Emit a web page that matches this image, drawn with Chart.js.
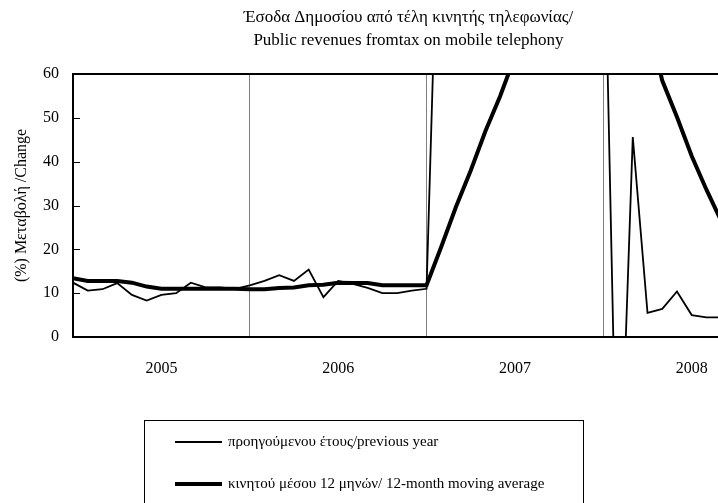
<!DOCTYPE html>
<html>
<head>
<meta charset="utf-8">
<script src="https://cdn.jsdelivr.net/npm/chart.js@4.4.1/dist/chart.umd.min.js"></script>
<style>
  html, body { margin: 0; padding: 0; background: #fff; overflow: hidden; width: 718px; height: 503px; }
  #wrap { position: relative; width: 744px; height: 503px; }
  #legend {
    position: absolute; left: 144px; top: 420px; width: 440px; height: 110px;
    border: 1px solid #000; box-sizing: border-box;
    font-family: "Liberation Serif", serif; font-size: 15px; color: #000;
  }
  .item { position: absolute; left: 30px; display: flex; align-items: center; white-space: nowrap; }
  .sample { display: inline-block; width: 47px; background: #000; margin-right: 6px; }
</style>
</head>
<body>
<div id="wrap">
  <canvas id="c" width="744" height="503"></canvas>
  <div id="legend"></div>
</div>
<script>
// ---- data (monthly, Jan 2005 onward) ----
const yearLabels = ['2005', '2006', '2007', '2008'];
const seriesNames = ['προηγούμενου έτους/previous year', 'κινητού μέσου 12 μηνών/ 12-month moving average'];
const prevYear = [
  12.4, 10.6, 10.9, 12.3, 9.6, 8.3, 9.6, 10.0, 12.4, 11.3, 11.3, 11.0,
  11.8, 12.8, 14.1, 12.8, 15.4, 9.1, 12.8, 12.1, 11.2, 10.0, 10.0, 10.6,
  11.0, 125, 118, 112, 120, 108, 122, 115, 110, 118, 112, 105,
  107, -51, 45.6, 5.5, 6.4, 10.4, 5.0, 4.5, 4.5
];
const movingAvg = [
  13.4, 12.8, 12.8, 12.8, 12.4, 11.5, 11.0, 11.0, 11.0, 11.0, 11.0, 11.0,
  10.9, 10.9, 11.2, 11.3, 11.8, 11.9, 12.4, 12.3, 12.3, 11.8, 11.8, 11.8,
  11.8, 20.6, 29.7, 38.0, 47.0, 55.0, 64.0, 72, 80, 88, 96, 104,
  111, 100, 87, 73, 58.5, 50.2, 41.3, 33.6, 26.5
];
const yTicks = [0, 10, 20, 30, 40, 50, 60];

const toPts = arr => arr.map((v, i) => ({ x: i, y: v }));
const FONT = '"Liberation Serif", "Times New Roman", serif';

const frameAndTicks = {
  id: 'frameAndTicks',
  afterDatasetsDraw(chart) {
    const { ctx, chartArea: a, scales } = chart;
    ctx.save();
    ctx.strokeStyle = '#000';
    ctx.lineWidth = 1;
    scales.y.ticks.forEach(t => {
      const y = Math.round(scales.y.getPixelForValue(t.value)) + 0.5;
      ctx.beginPath(); ctx.moveTo(a.left, y); ctx.lineTo(a.left + 7, y); ctx.stroke();
    });
    ctx.lineWidth = 2;
    ctx.strokeRect(a.left, a.top, a.right - a.left, a.bottom - a.top);
    ctx.restore();
  }
};

const chart = new Chart(document.getElementById('c'), {
  type: 'line',
  data: {
    datasets: [
      { label: seriesNames[0], data: toPts(prevYear), borderColor: '#000', borderWidth: 1.8, pointRadius: 0, tension: 0, clip: 0 },
      { label: seriesNames[1], data: toPts(movingAvg), borderColor: '#000', borderWidth: 4, pointRadius: 0, tension: 0, clip: 0 }
    ]
  },
  options: {
    responsive: false,
    animation: false,
    layout: { padding: 0 },
    plugins: {
      legend: { display: false },
      tooltip: { enabled: false },
      title: {
        display: true,
        fullSize: false,
        text: ['Έσοδα Δημοσίου από τέλη κινητής τηλεφωνίας/', 'Public revenues fromtax on mobile telephony'],
        color: '#000',
        font: { family: FONT, size: 17, weight: 'normal', lineHeight: 1.353 },
        padding: { top: 6, bottom: 22 }
      }
    },
    scales: {
      x: {
        type: 'linear', min: 0, max: 45.55,
        afterFit: s => { s.height = 166; },
        border: { display: false },
        grid: {
          drawTicks: false,
          color: c => (c.tick && c.tick.value > 0 && c.tick.value % 12 === 0) ? '#808080' : 'rgba(0,0,0,0)',
          lineWidth: 1
        },
        ticks: {
          stepSize: 6, includeBounds: false, autoSkip: false, maxRotation: 0,
          padding: 22, color: '#000', font: { family: FONT, size: 16 },
          callback: v => (v % 12 === 6) ? yearLabels[(v - 6) / 12] : ''
        }
      },
      y: {
        min: 0, max: 60,
        afterFit: s => { s.width = 73; },
        afterBuildTicks: s => { s.ticks = yTicks.map(v => ({ value: v })); },
        border: { display: false },
        grid: { display: false, drawTicks: false },
        ticks: { padding: 14, color: '#000', font: { family: FONT, size: 16 } },
        title: {
          display: true, text: '(%) Μεταβολή /Change', color: '#000',
          font: { family: FONT, size: 16 }, padding: { top: 12, bottom: 0 }
        }
      }
    }
  },
  plugins: [frameAndTicks]
});

// legend built from chart datasets
const leg = document.getElementById('legend');
chart.data.datasets.forEach((ds, i) => {
  const row = document.createElement('div');
  row.className = 'item';
  row.style.top = (i === 0 ? 12 : 54) + 'px';
  const s = document.createElement('span');
  s.className = 'sample';
  s.style.height = (i === 0 ? 2 : 4) + 'px';
  const t = document.createElement('span');
  t.textContent = ds.label;
  row.appendChild(s); row.appendChild(t);
  leg.appendChild(row);
});
</script>
</body>
</html>
